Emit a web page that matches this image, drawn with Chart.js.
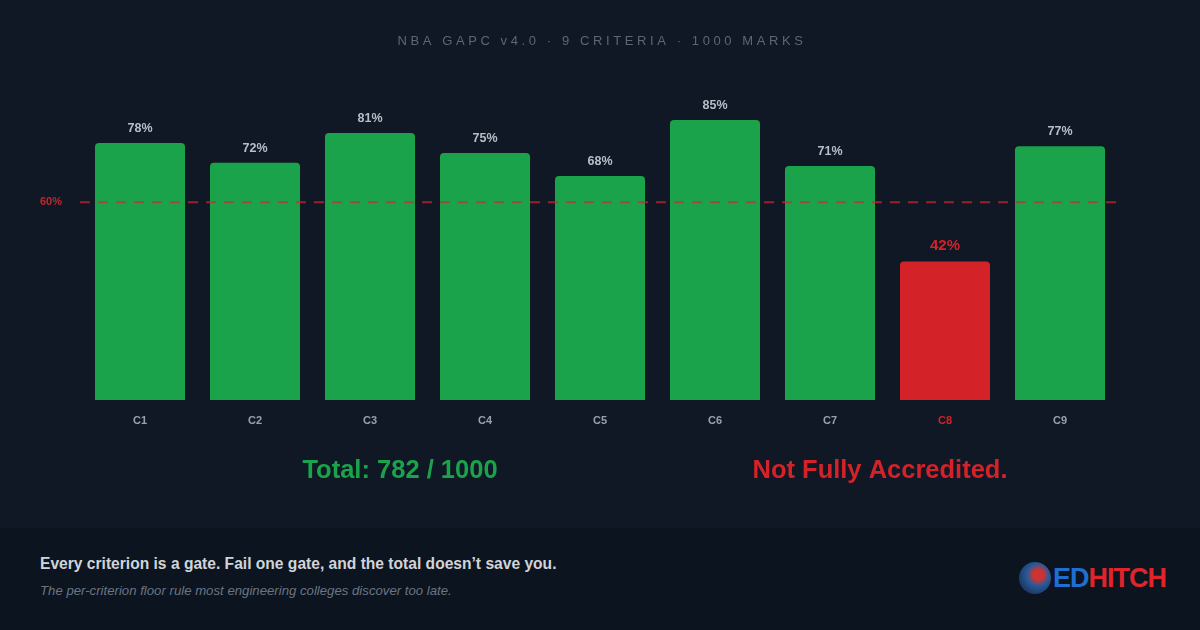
<!DOCTYPE html>
<html><head><meta charset="utf-8">
<script src="https://cdn.jsdelivr.net/npm/chart.js@4.4.1/dist/chart.umd.min.js"></script>
<style>
html,body{margin:0;padding:0;width:1200px;height:630px;background:#0f1824;overflow:hidden;font-family:"Liberation Sans",Arial,sans-serif}
#wrap{position:absolute;left:0;top:0;width:1200px;height:528px}
#foot{position:absolute;left:0;top:528px;width:1200px;height:102px;background:#0c141f}
#foot .t1{position:absolute;left:40px;top:27px;color:#d0d4da;font-size:15.6px;font-weight:bold}
#foot .t2{position:absolute;left:40px;top:55px;color:#6b7584;font-size:13.2px;font-style:italic}
#logo{position:absolute;left:1019px;top:33px;height:34px;display:flex;align-items:center}
#logo .c{width:32px;height:32px;border-radius:50%;background:radial-gradient(circle at 60% 40%,#c33 0 20%,#2a5a9a 40%,#1c3d6a 70%);margin-right:2px}
#logo .e{color:#1f6fd0;font-weight:bold;font-size:27px;letter-spacing:-1px}
#logo .h{color:#e0242a;font-weight:bold;font-size:27px;letter-spacing:-1px}
</style></head><body>
<div id="wrap"><canvas id="c" width="1200" height="528"></canvas></div>
<div id="foot">
  <div class="t1">Every criterion is a gate. Fail one gate, and the total doesn’t save you.</div>
  <div class="t2">The per-criterion floor rule most engineering colleges discover too late.</div>
  <div id="logo"><div class="c"></div><span class="e">ED</span><span class="h">HITCH</span></div>
</div>
<script>
const criteria = ['C1','C2','C3','C4','C5','C6','C7','C8','C9'];
const scores = [78, 72, 81, 75, 68, 85, 71, 42, 77];
const floorPct = 60;
const totalMarks = 782, maxMarks = 1000;

const GREEN = '#1aa34a', RED = '#d32228';
const colors = scores.map(v => v < floorPct ? RED : GREEN);

const overlay = {
  id: 'overlay',
  afterDatasetsDraw(chart) {
    const { ctx, scales: { x, y }, chartArea } = chart;
    ctx.save();
    // floor line
    const fy = y.getPixelForValue(floorPct);
    ctx.strokeStyle = 'rgba(210,40,45,0.7)';
    ctx.lineWidth = 2;
    ctx.setLineDash([10, 8]);
    ctx.beginPath(); ctx.moveTo(80, fy); ctx.lineTo(1118, fy); ctx.stroke();
    ctx.setLineDash([]);
    ctx.fillStyle = '#c0282d';
    ctx.font = 'bold 11px "Liberation Sans", Arial';
    ctx.textAlign = 'right'; ctx.textBaseline = 'middle';
    ctx.fillText(floorPct + '%', 62, fy);
    // value + category labels
    ctx.textAlign = 'center';
    scores.forEach((v, i) => {
      const px = x.getPixelForValue(i);
      const fail = v < floorPct;
      ctx.fillStyle = fail ? RED : '#b8bec7';
      ctx.font = (fail ? 'bold 15px' : 'bold 12.5px') + ' "Liberation Sans", Arial';
      ctx.textBaseline = 'bottom';
      ctx.fillText(v + '%', px, y.getPixelForValue(v) - 8);
      ctx.fillStyle = fail ? RED : '#9aa1ab';
      ctx.font = 'bold 11px "Liberation Sans", Arial';
      ctx.textBaseline = 'middle';
      ctx.fillText(criteria[i], px, chartArea.bottom + 21);
    });
    // title
    ctx.fillStyle = '#5d6773';
    ctx.font = '13px "Liberation Sans", Arial';
    ctx.letterSpacing = '3.6px';
    ctx.fillText('NBA GAPC v4.0 · 9 CRITERIA · 1000 MARKS', 602, 41);
    ctx.letterSpacing = '0px';
    // summary
    ctx.font = 'bold 25.5px "Liberation Sans", Arial';
    ctx.fillStyle = GREEN;
    ctx.fillText('Total: ' + totalMarks + ' / ' + maxMarks, 400, 471);
    ctx.fillStyle = RED;
    ctx.fillText('Not Fully Accredited.', 880, 471);
    ctx.restore();
  }
};

new Chart(document.getElementById('c'), {
  type: 'bar',
  data: { labels: criteria, datasets: [{ data: scores, backgroundColor: colors, borderRadius: 4, borderSkipped: 'bottom', categoryPercentage: 1, barPercentage: 0.783 }] },
  options: {
    responsive: false, animation: false,
    layout: { padding: { left: 82.5, right: 82.5, top: 70.5, bottom: 128 } },
    plugins: { legend: { display: false }, tooltip: { enabled: false } },
    scales: { x: { display: false }, y: { display: false, min: 0, max: 100 } }
  },
  plugins: [overlay]
});
</script>
</body></html>
